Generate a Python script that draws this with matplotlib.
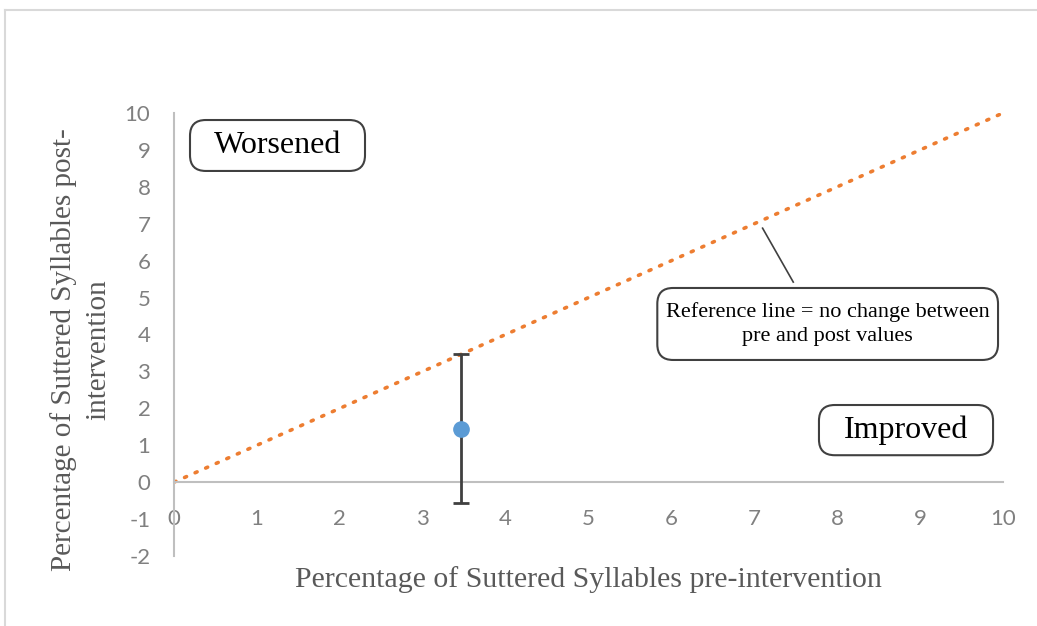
import matplotlib.pyplot as plt
import numpy as np
from matplotlib.patches import FancyBboxPatch
from matplotlib.lines import Line2D

# data
pre_value = [3.46]
post_value = [1.45]
post_err = [2.02]
ref_x = [0, 10]
ref_y = [0, 10]
xticks = list(range(0, 11))
yticks = list(range(-2, 11))

serif = 'Liberation Serif'
tickfont = 'Lato'
grey_txt = '#595959'

fig = plt.figure(figsize=(10.37, 6.26), dpi=100)
ax = fig.add_axes([174/1037, 70/626, (1003-174)/1037, (556-113)/626])

for s in ['top', 'right']:
    ax.spines[s].set_visible(False)
ax.spines['bottom'].set_position(('data', 0))
ax.spines['left'].set_color('#bfbfbf')
ax.spines['bottom'].set_color('#bfbfbf')
ax.spines['left'].set_linewidth(1.5)
ax.spines['bottom'].set_linewidth(1.5)

# reference line y = x
ax.plot(ref_x, ref_y, color='#ED7D31', lw=2.6, linestyle=(0, (0.6, 2.6)),
        dash_capstyle='round', zorder=2)

# mean point with error bar
ax.errorbar(pre_value, post_value, yerr=post_err, fmt='o', color='#5B9BD5',
            ms=11, ecolor='#404040', elinewidth=2, capsize=6, capthick=2, zorder=3)

ax.set_xlim(0, 10)
ax.set_ylim(-2, 10)
ax.set_xticks(xticks)
ax.set_yticks(yticks)
ax.set_xticklabels([str(t) for t in xticks], fontfamily=tickfont, fontsize=16, color='#808080')
ax.set_yticklabels([str(t) for t in yticks], fontfamily=tickfont, fontsize=16, color='#808080')
ax.tick_params(axis='x', length=0, pad=19)
ax.tick_params(axis='y', length=0, pad=17)

# axis titles
fig.text(588/1037, 1 - 580/626, 'Percentage of Suttered Syllables pre-intervention',
         ha='center', va='center', fontfamily=serif, fontsize=21.5, color=grey_txt)
fig.text(81/1037, 1 - 350/626, 'Percentage of Suttered Syllables post-\nintervention',
         ha='center', va='center', rotation=90, fontfamily=serif, fontsize=21,
         color=grey_txt, linespacing=1.4, multialignment='center')

# rounded label boxes
asp = (82.9/36.9)
def label_box(x0, x1, y0, y1, text, size):
    box = FancyBboxPatch((x0, y0), x1 - x0, y1 - y0,
                         boxstyle='round,pad=0,rounding_size=0.19',
                         mutation_aspect=asp, fc='white', ec='#404040', lw=1.5,
                         zorder=4, clip_on=False)
    ax.add_patch(box)
    ax.text((x0 + x1)/2, (y0 + y1)/2, text, ha='center', va='center',
            fontfamily=serif, fontsize=size, color='black', zorder=5,
            multialignment='center', linespacing=1.3)

label_box(0.193, 2.304, 8.43, 9.81, 'Worsened', 23)
label_box(7.78, 9.88, 0.73, 2.09, 'Improved', 23)
label_box(5.83, 9.94, 3.31, 5.26, 'Reference line = no change between\npre and post values', 16)

# leader line to the reference line
ax.plot([7.10, 7.47], [6.88, 5.42], color='#404040', lw=1.2, zorder=3)

# outer frame (top and left edges visible)
fig.add_artist(Line2D([5/1037, 5/1037], [0, 1 - 10/626], color='#d9d9d9', lw=1.5))
fig.add_artist(Line2D([5/1037, 1], [1 - 10/626, 1 - 10/626], color='#d9d9d9', lw=1.5))

fig.savefig('out.png', dpi=100)
